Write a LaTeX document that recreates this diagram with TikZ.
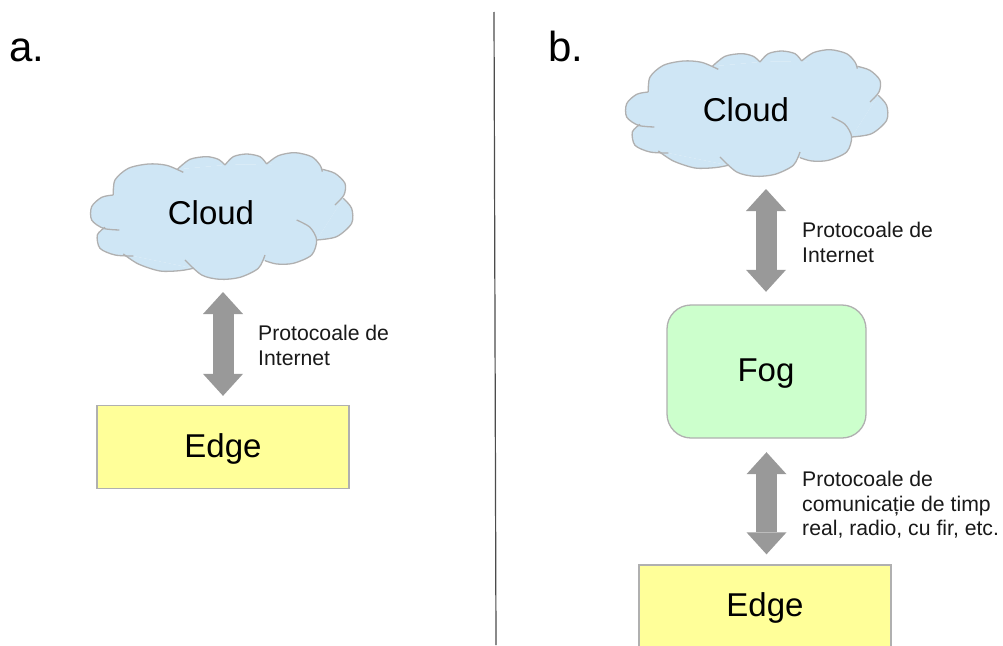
\documentclass[tikz,border=0pt]{standalone}
\usepackage{fontspec}
\setmainfont{Liberation Sans}
\usetikzlibrary{arrows.meta}
\definecolor{cloudfill}{HTML}{CFE6F5}
\definecolor{edgefill}{HTML}{FFFF99}
\definecolor{fogfill}{HTML}{CCFFCC}
\definecolor{outl}{HTML}{B0B0B0}
\definecolor{arrowgray}{HTML}{999999}
\newcommand{\cloudlobes}[1]{%
  \path[#1] plot[smooth] coordinates {(340,97)(290,76)(235,72)(175,85)(135,120)(130,165)};
  \path[#1] plot[smooth] coordinates {(322,88)(360,58)(410,50)(445,58)(465,75)};
  \path[#1] plot[smooth] coordinates {(465,75)(490,50)(530,42)(570,50)(590,72)};
  \path[#1] plot[smooth] coordinates {(590,72)(625,47)(675,38)(725,50)(750,75)(757,95)};
  \path[#1] plot[smooth] coordinates {(757,88)(795,100)(825,130)(822,165)(795,195)};
  \path[#1] plot[smooth] coordinates {(820,175)(845,205)(845,250)(800,290)(740,300)};
  \path[#1] plot[smooth] coordinates {(680,240)(720,262)(740,300)(725,345)(670,370)(620,372)(585,362)};
  \path[#1] plot[smooth] coordinates {(585,345)(565,385)(510,412)(450,418)(395,405)(345,360)};
  \path[#1] plot[smooth] coordinates {(160,342)(205,372)(270,393)(330,392)(370,385)};
  \path[#1] plot[smooth] coordinates {(105,262)(82,285)(90,325)(135,345)(190,348)};
  \path[#1] plot[smooth] coordinates {(148,270)(100,265)(65,240)(65,200)(95,172)(130,165)};}
\newcommand{\cloudshape}[2]{%
  \begin{scope}[shift={(#1,#2)},x=0.3333pt,y=-0.3333pt]
    \fill[cloudfill] (130,165) -- (322,88) -- (465,75) -- (590,72) -- (757,88) -- (820,175) -- (740,300) -- (585,362) -- (370,385) -- (160,342) -- (105,262) -- cycle;
    \cloudlobes{fill=cloudfill}
    \cloudlobes{draw=outl,line width=1.3pt}
  \end{scope}}
\tikzset{
  bigtext/.style={font=\fontsize{33}{38}\selectfont,text=black,inner sep=0pt},
  panel/.style={font=\fontsize{42}{48}\selectfont,text=black,inner sep=0pt,anchor=base west},
  lbl/.style={font=\fontsize{21.2}{24.5}\selectfont,text=black!90,inner sep=0pt,anchor=north west,align=left},
  boxy/.style={draw=outl,line width=1.3pt,minimum width=#1,inner sep=0pt},
  dbl/.style={draw=arrowgray,line width=21pt,
    {Triangle[length=22pt,width=40pt,fill=arrowgray,line width=0pt]}-{Triangle[length=22pt,width=40pt,fill=arrowgray,line width=0pt]}},
  divider/.style={draw=black!70,line width=1.2pt}
}
\begin{document}
\begin{tikzpicture}[x=1pt,y=-1pt]
\useasboundingbox (0,0) rectangle (1003,645);
\clip (0,0) rectangle (1003,645);
\fill[white] (0,0) rectangle (1003,645);
\coordinate (dtop) at (494,12);
\coordinate (dbot) at (496,645);
\draw[divider] (dtop) -- (dbot);
\node[panel] (pa) at (9,61) {a.};
\node[panel] (pb) at (548,61) {b.};
% panel a
\cloudshape{70}{140}
\node[bigtext] (cloudA) at (211,213) {Cloud};
\node[boxy=252pt,minimum height=83pt,fill=edgefill] (edgeA) at (223,447) {};
\node[bigtext] (edgeAt) at (223,449) {Edge};
\coordinate (cbA) at (223,292);
\draw[dbl,shorten >=9pt] (cbA) -- (edgeA.north);
\node[lbl] (lA) at (258,325) {Protocoale de\\Internet};
% panel b
\cloudshape{605}{37}
\node[bigtext] (cloudB) at (746,110) {Cloud};
\draw[draw=outl,line width=1.3pt,fill=fogfill,rounded corners=24pt] (667,305) rectangle (866,438);
\node[minimum width=199pt,minimum height=133pt,inner sep=0pt] (fog) at (766.5,371.5) {};
\node[bigtext] (fogt) at (766,374) {Fog};
\node[boxy=252pt,minimum height=90pt,fill=edgefill] (edgeB) at (765,610) {};
\node[bigtext] (edgeBt) at (765,608) {Edge};
\coordinate (cbB) at (766,189);
\draw[dbl,shorten >=13pt] (cbB) -- (cbB |- fog.north);
\draw[dbl,shorten <=14pt,shorten >=10pt] (fog.south) -- (fog.south |- edgeB.north);
\node[lbl] (lB) at (802,222) {Protocoale de\\Internet};
\node[lbl] (lC) at (802,471) {Protocoale de\\comunicație de timp\\real, radio, cu fir, etc.};
\end{tikzpicture}
\end{document}
